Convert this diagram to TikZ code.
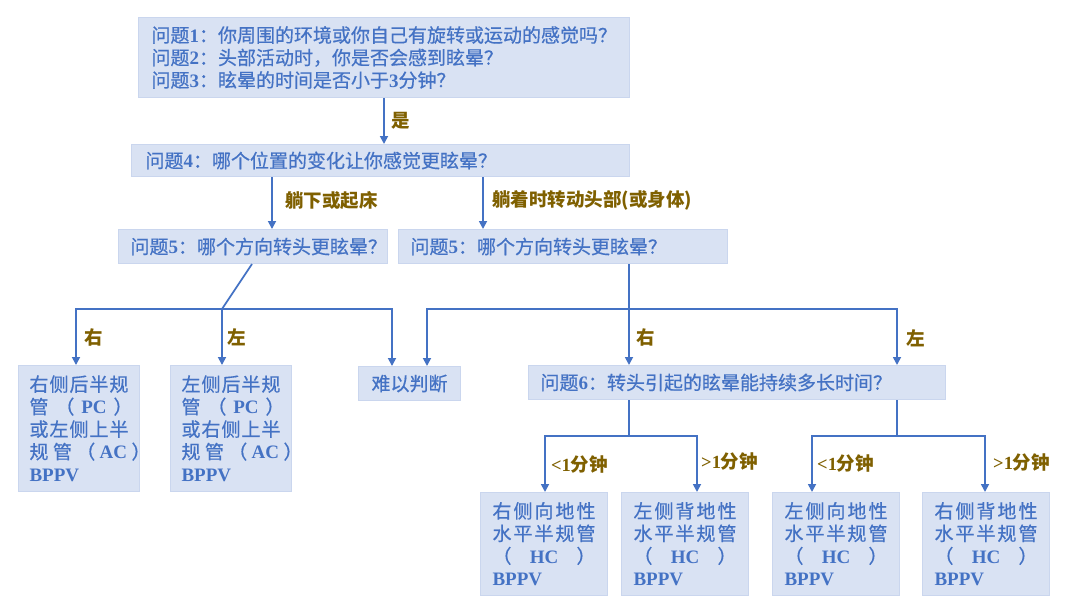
\documentclass[tikz,border=0pt]{standalone}
\usepackage{fontspec}
\setmainfont{Liberation Serif}
\newfontfamily\cjk{Noto Sans CJK SC}
\newfontfamily\cjkm{Noto Sans CJK SC}[FakeBold=0.6]
\usetikzlibrary{arrows.meta,calc}
\definecolor{boxfill}{HTML}{D9E2F3}
\definecolor{boxline}{HTML}{CAD6EE}
\definecolor{txt}{HTML}{4472C4}
\definecolor{lnk}{HTML}{4472C4}
\definecolor{lab}{HTML}{7F6000}
\newcommand\en[1]{{\rmfamily\bfseries #1}}
\newcommand\sline[2]{\makebox[#1][s]{#2}}
\begin{document}
\begin{tikzpicture}[x=1pt,y=-1pt,
  box/.style={draw=boxline, fill=boxfill, line width=1pt, anchor=north west,
    inner xsep=12pt, inner ysep=0pt, text=txt,
    font=\cjkm\fontsize{19}{22.5}\selectfont, align=left},
  ln/.style={draw=lnk, line width=1.7pt},
  arr/.style={ln, -{Triangle[length=8pt,width=8pt]}},
  dbl/.style={ln, {Triangle[length=8pt,width=8pt]}-{Triangle[length=8pt,width=8pt]}},
  lbl/.style={text=lab, font=\cjk\bfseries\fontsize{18.5}{20}\selectfont, inner sep=0pt}]
\path[use as bounding box, fill=white] (0,0) rectangle (1080,614);

% boxes
\node[box, inner xsep=13pt, text width=465pt, minimum height=80pt] (q123) at (138,17)
  {问题\en{1}：你周围的环境或你自己有旋转或运动的感觉吗？\\问题\en{2}：头部活动时，你是否会感到眩晕？\\问题\en{3}：眩晕的时间是否小于\en{3}分钟？};
\node[box, inner xsep=14pt, text width=470pt, minimum height=32pt] (q4) at (131,144)
  {问题\en{4}：哪个位置的变化让你感觉更眩晕？};
\node[box, text width=245pt, minimum height=34pt] (q5a) at (118,229)
  {问题\en{5}：哪个方向转头更眩晕？};
\node[box, text width=305pt, minimum height=34pt] (q5b) at (398,229)
  {问题\en{5}：哪个方向转头更眩晕？};
\node[box, inner xsep=11pt, text width=99pt, minimum height=126pt] (pcR) at (18,365)
  {\sline{99pt}{右\hfil 侧\hfil 后\hfil 半\hfil 规}\\\sline{103pt}{管\hfil （\hfil\en{PC}\hfil ）}\\\sline{99pt}{或\hfil 左\hfil 侧\hfil 上\hfil 半}\\\sline{121pt}{规\hfil 管\hfil （\hfil\en{AC}\hfil ）}\\\en{BPPV}};
\node[box, inner xsep=11pt, text width=99pt, minimum height=126pt] (pcL) at (170,365)
  {\sline{99pt}{左\hfil 侧\hfil 后\hfil 半\hfil 规}\\\sline{103pt}{管\hfil （\hfil\en{PC}\hfil ）}\\\sline{99pt}{或\hfil 右\hfil 侧\hfil 上\hfil 半}\\\sline{121pt}{规\hfil 管\hfil （\hfil\en{AC}\hfil ）}\\\en{BPPV}};
\node[box, align=center, text width=78pt, minimum height=34pt] (nan) at (358,366) {难以判断};
\node[box, text width=393pt, minimum height=34pt] (q6) at (528,365)
  {问题\en{6}：转头引起的眩晕能持续多长时间？};
\node[box, text width=103pt, minimum height=103pt] (b1) at (480,492)
  {\sline{103pt}{右\hfil 侧\hfil 向\hfil 地\hfil 性}\\\sline{103pt}{水\hfil 平\hfil 半\hfil 规\hfil 管}\\\sline{103pt}{（\hfil\en{HC}\hfil ）}\\\en{BPPV}};
\node[box, text width=103pt, minimum height=103pt] (b2) at (621,492)
  {\sline{103pt}{左\hfil 侧\hfil 背\hfil 地\hfil 性}\\\sline{103pt}{水\hfil 平\hfil 半\hfil 规\hfil 管}\\\sline{103pt}{（\hfil\en{HC}\hfil ）}\\\en{BPPV}};
\node[box, text width=103pt, minimum height=103pt] (b3) at (772,492)
  {\sline{103pt}{左\hfil 侧\hfil 向\hfil 地\hfil 性}\\\sline{103pt}{水\hfil 平\hfil 半\hfil 规\hfil 管}\\\sline{103pt}{（\hfil\en{HC}\hfil ）}\\\en{BPPV}};
\node[box, text width=103pt, minimum height=103pt] (b4) at (922,492)
  {\sline{103pt}{右\hfil 侧\hfil 背\hfil 地\hfil 性}\\\sline{103pt}{水\hfil 平\hfil 半\hfil 规\hfil 管}\\\sline{103pt}{（\hfil\en{HC}\hfil ）}\\\en{BPPV}};

% connectors
\coordinate (xa) at (384,0);
\draw[arr] (q123.south -| xa) -- (q4.north -| xa);
\coordinate (xb) at (272,0);
\draw[arr] (q4.south -| xb) -- (q5a.north -| xb);
\coordinate (xc) at (483,0);
\draw[arr] (q4.south -| xc) -- (q5b.north -| xc);

\coordinate (d1) at (252,0);
\coordinate (h1) at (222,309);
\coordinate (hL) at (76,309);
\coordinate (hR) at (392,309);
\draw[ln] (q5a.south -| d1) -- (h1);
\draw[dbl] (hL |- pcR.north) -- (hL) -- (hR) -- (hR |- nan.north);
\draw[arr] (h1) -- (h1 |- pcL.north);

\coordinate (v1) at (629,309);
\coordinate (gL) at (427,309);
\coordinate (gR) at (897,309);
\draw[arr] (q5b.south -| v1) -- (v1 |- q6.north);
\draw[dbl] (gL |- nan.north) -- (gL) -- (gR) -- (gR |- q6.north);

\coordinate (k1) at (629,436);
\coordinate (k1L) at (545,436);
\coordinate (k1R) at (697,436);
\draw[ln] (q6.south -| k1) -- (k1);
\draw[dbl] (k1L |- b1.north) -- (k1L) -- (k1R) -- (k1R |- b2.north);
\coordinate (k2) at (897,436);
\coordinate (k2L) at (812,436);
\coordinate (k2R) at (985,436);
\draw[ln] (q6.south -| k2) -- (k2);
\draw[dbl] (k2L |- b3.north) -- (k2L) -- (k2R) -- (k2R |- b4.north);

% labels
\node[lbl, anchor=west] (lyes) at (391,121) {是};
\node[lbl, anchor=west] (l1) at (285,200) {躺下或起床};
\node[lbl, anchor=west] (l2) at (492,200) {躺着时转动头部(或身体)};
\node[lbl] (lr1) at (94,337) {右};
\node[lbl] (ll1) at (237,337) {左};
\node[lbl] (lr2) at (646,337) {右};
\node[lbl] (ll2) at (916,338) {左};
\node[lbl, anchor=west] (t1) at (551,465) {\en{<1}分钟};
\node[lbl, anchor=west] (t2) at (701,462) {\en{>1}分钟};
\node[lbl, anchor=west] (t3) at (817,464) {\en{<1}分钟};
\node[lbl, anchor=west] (t4) at (993,463) {\en{>1}分钟};
\end{tikzpicture}
\end{document}
